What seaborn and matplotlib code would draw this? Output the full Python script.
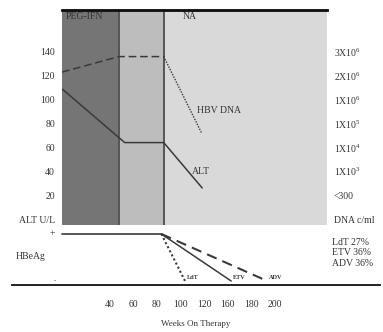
import matplotlib
matplotlib.use("Agg")
import matplotlib.pyplot as plt
import seaborn as sns
import pandas as pd

# Treatment phases (weeks on therapy)
phase_names = ["PEG-IFN", "", "NA"]
phase_edges = [0, 48, 86, 224]
phase_colors = ["#757575", "#bdbdbd", "#d9d9d9"]

# Serum ALT (U/L) and HBV DNA (plotted on the ALT scale)
alt_weeks = [0, 53, 86, 118.5]
alt_vals = [109, 64, 64, 26]
dna_weeks = [0, 48, 86, 118]
dna_vals = [123, 136, 136, 72]

# Axis labels
alt_ticks = [0, 20, 40, 60, 80, 100, 120, 140]
alt_ticklabels = ["ALT U/L", "20", "40", "60", "80", "100", "120", "140"]
dna_ticklabels = ["DNA c/ml", "<300", "1X10$^{3}$", "1X10$^{4}$", "1X10$^{5}$",
                  "1X10$^{6}$", "2X10$^{6}$", "3X10$^{6}$"]

# HBeAg status (1 = positive, 0 = negative)
hbeag_start = [0, 84]
hbeag_drugs = ["LdT", "ETV", "ADV"]
hbeag_loss_week = [104, 143, 173.5]
seroconv_rates = ["27%", "36%", "36%"]

week_ticks = [40, 60, 80, 100, 120, 140, 160, 180]
week_ticklabels = ["40", "60", "80", "100", "120", "160", "180", "200"]

sns.set_style("white")
plt.rcParams["font.family"] = ["Liberation Serif", "DejaVu Serif"]
plt.rcParams["mathtext.fontset"] = "custom"
plt.rcParams["mathtext.rm"] = "Liberation Serif"
plt.rcParams["mathtext.it"] = "Liberation Serif"
plt.rcParams["font.size"] = 7

W, H = 383, 332
fig = plt.figure(figsize=(W / 100, H / 100), dpi=100)
txt = "#333333"
line_c = "#3a3a3a"

def frac(x0, y0, x1, y1):
    return [x0 / W, 1 - y1 / H, (x1 - x0) / W, (y1 - y0) / H]

# ---- upper panel: ALT and HBV DNA ----
ax = fig.add_axes(frac(62, 10, 327, 225))
ax.set_xlim(phase_edges[0], phase_edges[-1])
ax.set_ylim(-5, 175)
for i in range(3):
    ax.axvspan(phase_edges[i], phase_edges[i + 1], color=phase_colors[i], lw=0, zorder=0)
for e in phase_edges[1:3]:
    ax.axvline(e, color="#555555", lw=1.4, zorder=1)

alt_df = pd.DataFrame({"week": alt_weeks, "val": alt_vals})
sns.lineplot(data=alt_df, x="week", y="val", ax=ax, color=line_c, lw=1.1,
             estimator=None, sort=False)
dna_df = pd.DataFrame({"week": dna_weeks, "val": dna_vals})
sns.lineplot(data=dna_df.iloc[:3], x="week", y="val", ax=ax, color=line_c, lw=1.1,
             estimator=None, sort=False, linestyle=(0, (5, 2.5)))
sns.lineplot(data=dna_df.iloc[2:], x="week", y="val", ax=ax, color=line_c, lw=1.0,
             estimator=None, sort=False, linestyle=(0, (1, 1)))

ax.text(2.7, 169.5, phase_names[0], color=txt, va="center", ha="left")
ax.text(101.6, 169.5, phase_names[2], color=txt, va="center", ha="left")
ax.text(114, 90.5, "HBV DNA", color=txt, va="center", ha="left")
ax.text(110, 40, "ALT", color=txt, va="center", ha="left")

ax.set_yticks(alt_ticks)
ax.set_yticklabels(alt_ticklabels, color=txt)
ax.tick_params(axis="y", length=0, pad=5)
ax.set_xticks([])
ax.set_xlabel("")
ax.set_ylabel("")
axr = ax.twinx()
axr.set_ylim(ax.get_ylim())
axr.set_yticks(alt_ticks)
axr.set_yticklabels(dna_ticklabels, color=txt)
axr.tick_params(axis="y", length=0, pad=5)
for a in (ax, axr):
    for s in ("left", "right", "bottom"):
        a.spines[s].set_visible(False)
    a.spines["top"].set_color("#111111")
    a.spines["top"].set_linewidth(1.8)

# ---- lower panel: HBeAg ----
scale = (327 - 62) / (phase_edges[-1] - phase_edges[0])
bx = fig.add_axes(frac(12, 226, 380, 285))
bx.set_xlim((12 - 62) / scale, (380 - 62) / scale)
bx.set_ylim(-0.085, 1.17)

flat = pd.DataFrame({"week": hbeag_start, "val": [1, 1]})
sns.lineplot(data=flat, x="week", y="val", ax=bx, color=line_c, lw=1.2, estimator=None)
styles = [(0, (1, 1.2)), "-", (0, (5, 3))]
widths = [1.5, 1.1, 1.5]
for drug, wk, ls, lw in zip(hbeag_drugs, hbeag_loss_week, styles, widths):
    seg = pd.DataFrame({"week": [hbeag_start[-1], wk], "val": [1, 0]})
    sns.lineplot(data=seg, x="week", y="val", ax=bx, color=line_c, lw=lw,
                 estimator=None, linestyle=ls)
    bx.text(wk + 1.5, 0.08, drug, fontsize=4.5, fontweight="bold", color=txt,
            ha="left", va="center")

bx.text(-6, 1, "+", ha="right", va="center", color=txt, fontsize=7)
bx.text(-5, 0, "-", ha="right", va="center", color=txt, fontsize=5)
bx.text((16 - 62) / scale, 0.53, "HBeAg", ha="left", va="center", color=txt)
for i, (drug, r) in enumerate(zip(hbeag_drugs, seroconv_rates)):
    bx.text((332 - 62) / scale, 0.82 - i * 0.22, f"{drug} {r}", ha="left",
            va="center", color=txt)

bx.set_xticks(week_ticks)
bx.set_xticklabels(week_ticklabels, color=txt)
bx.tick_params(axis="x", length=0, pad=11)
bx.set_yticks([])
bx.set_ylabel("")
bx.set_xlabel("Weeks On Therapy", color=txt, labelpad=8, fontsize=6.5)
for s in ("left", "right", "top"):
    bx.spines[s].set_visible(False)
bx.spines["bottom"].set_color("#222222")
bx.spines["bottom"].set_linewidth(1.4)
bx.patch.set_alpha(0)

fig.savefig("out.png", dpi=100, facecolor="white")
